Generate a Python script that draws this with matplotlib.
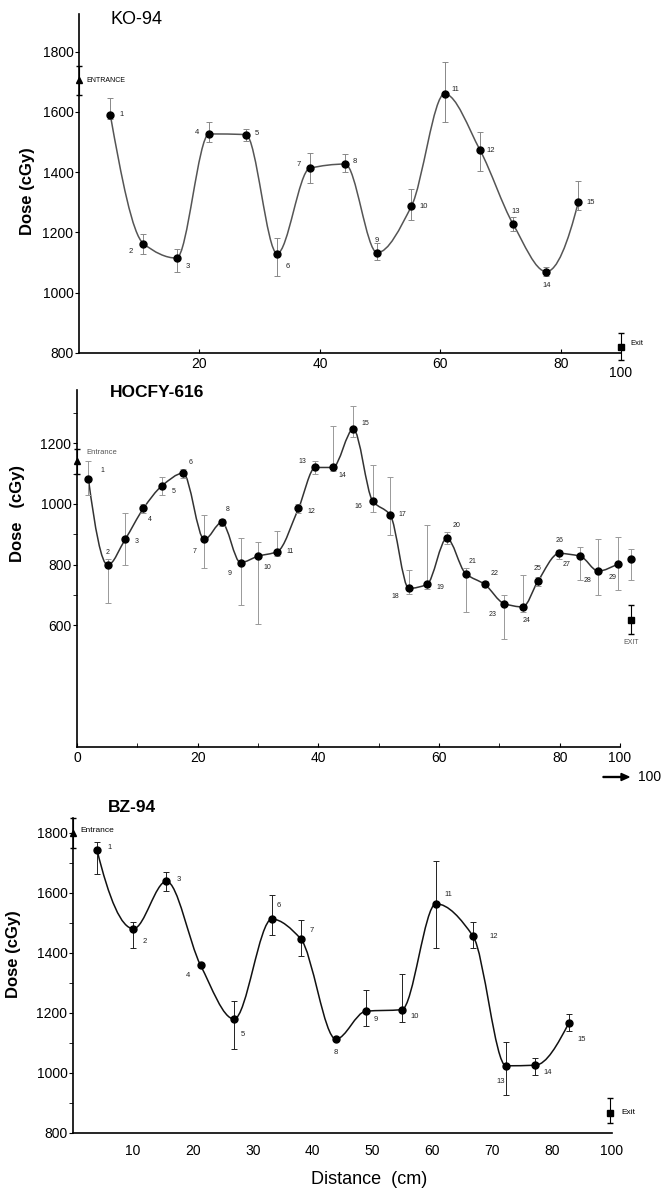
import numpy as np
import matplotlib
matplotlib.use("Agg")
import matplotlib.pyplot as plt
from matplotlib.path import Path
from matplotlib.patches import PathPatch, FancyArrow

plt.rcParams['font.family'] = ['Liberation Sans', 'DejaVu Sans']

# ---------------- data ----------------
# KO-94
ko_x = [5.2, 10.7, 16.2, 21.6, 27.7, 32.9, 38.3, 44.2, 49.5, 55.2, 60.7, 66.6, 72.1, 77.6, 82.9]
ko_dose = [1590, 1163, 1115, 1527, 1525, 1130, 1413, 1427, 1133, 1287, 1660, 1473, 1227, 1070, 1300]
ko_lo = [1575, 1130, 1070, 1500, 1505, 1055, 1365, 1400, 1110, 1240, 1565, 1405, 1205, 1055, 1275]
ko_hi = [1645, 1195, 1145, 1565, 1545, 1180, 1465, 1460, 1165, 1345, 1765, 1535, 1250, 1085, 1370]
ko_entrance = [1705, 1655, 1752]   # dose, low, high
ko_exit = [820, 778, 867]

# HOCFY-616
hf_x = [1.9, 5.1, 8.0, 11.0, 14.1, 17.6, 21.1, 24.0, 27.1, 30.0, 33.2, 36.7, 39.5, 42.4, 45.8,
        49.0, 51.9, 55.0, 58.0, 61.3, 64.4, 67.6, 70.8, 73.9, 76.4, 79.9, 83.4, 86.4, 89.7, 91.8]
hf_dose = [1081, 799, 884, 985, 1060, 1101, 883, 939, 807, 828, 843, 985, 1120, 1120, 1246,
           1010, 964, 722, 735, 887, 771, 735, 672, 661, 746, 837, 828, 779, 802, 820]
hf_lo = [1030, 675, 799, 970, 1030, 1086, 790, 929, 666, 606, 830, 970, 1100, 1110, 1220,
         975, 898, 705, 720, 867, 644, 725, 557, 645, 731, 820, 751, 700, 716, 749]
hf_hi = [1140, 820, 969, 1000, 1090, 1116, 963, 949, 887, 876, 911, 1000, 1140, 1257, 1321,
         1129, 1090, 782, 931, 907, 790, 745, 700, 766, 761, 850, 859, 883, 892, 853]
hf_entrance = [1140, 1100, 1180]
hf_exit = [617, 573, 666]

# BZ-94
bz_x = [4.0, 10.1, 15.6, 21.3, 26.9, 33.2, 38.0, 43.9, 48.9, 54.9, 60.6, 66.8, 72.3, 77.2, 82.8]
bz_dose = [1744, 1481, 1639, 1359, 1180, 1513, 1448, 1113, 1206, 1211, 1564, 1456, 1024, 1026, 1167]
bz_lo = [1663, 1417, 1608, 1359, 1080, 1459, 1389, 1113, 1156, 1169, 1417, 1417, 926, 995, 1140]
bz_hi = [1770, 1503, 1669, 1359, 1239, 1592, 1511, 1113, 1276, 1330, 1706, 1502, 1103, 1050, 1198]
bz_entrance = [1800, 1750, 1850]
bz_exit = [867, 833, 917]

# label offsets (points) for the point numbers
ko_off = [(8, 0), (-9, -6), (8, -6), (-9, 1), (8, 1), (8, -9), (-8, 3), (7, 2), (0, 9),
          (9, 0), (8, 3), (8, 0), (2, 9), (0, -10), (9, 0)]
hf_off = [(10, 6), (0, 9), (8, -2), (5, -8), (8, -4), (5, 8), (-7, -9), (4, 9), (-8, -8),
          (7, -8), (9, 0), (9, -2), (-9, 4), (7, -6), (9, 4), (-10, -4), (9, 0), (-10, -6),
          (10, -2), (7, 9), (5, 9), (7, 8), (-8, -8), (3, -10), (0, 9), (0, 9), (-10, -6),
          (-8, -7), (-4, -10), (8, -7)]
bz_off = [(9, 2), (8, -9), (9, 1), (-9, -7), (6, -11), (5, 10), (8, 6), (0, -10), (7, -6),
          (9, -5), (9, 7), (15, 0), (-4, -11), (9, -5), (9, -12)]

W, H = 665, 1190
fig = plt.figure(figsize=(W / 100, H / 100), dpi=100)


def px_axes(left, right, top, bottom):
    return fig.add_axes([left / W, 1 - bottom / H, (right - left) / W, (bottom - top) / H])


def smooth_path(x, y):
    # monotone cubic (Fritsch-Carlson) written as bezier segments
    x = np.asarray(x, float); y = np.asarray(y, float)
    h = np.diff(x); d = np.diff(y) / h
    n = len(x)
    m = np.zeros(n)
    for k in range(1, n - 1):
        if d[k - 1] * d[k] > 0:
            w1 = 2 * h[k] + h[k - 1]
            w2 = h[k] + 2 * h[k - 1]
            m[k] = (w1 + w2) / (w1 / d[k - 1] + w2 / d[k])

    def end_slope(h0, h1, d0, d1):
        s = ((2 * h0 + h1) * d0 - h0 * d1) / (h0 + h1)
        if np.sign(s) != np.sign(d0):
            return 0.0
        if np.sign(d0) != np.sign(d1) and abs(s) > abs(3 * d0):
            return 3 * d0
        return s
    m[0] = end_slope(h[0], h[1], d[0], d[1])
    m[-1] = end_slope(h[-1], h[-2], d[-1], d[-2])

    verts = [(x[0], y[0])]
    codes = [Path.MOVETO]
    for i in range(n - 1):
        verts += [(x[i] + h[i] / 3, y[i] + m[i] * h[i] / 3),
                  (x[i + 1] - h[i] / 3, y[i + 1] - m[i + 1] * h[i] / 3),
                  (x[i + 1], y[i + 1])]
        codes += [Path.CURVE4] * 3
    return Path(verts, codes)


def draw(ax, x, y, lo, hi, offs, line_col, err_col, lab_size=5.5):
    x = np.array(x); y = np.array(y)
    yerr = [y - np.array(lo), np.array(hi) - y]
    ax.add_patch(PathPatch(smooth_path(x, y), fill=False, ec=line_col, lw=1.1, zorder=2))
    ax.errorbar(x, y, yerr=yerr, fmt='none', ecolor=err_col, elinewidth=0.7, capsize=2,
                capthick=0.7, zorder=3, clip_on=False)
    ax.plot(x, y, 'o', color='black', ms=5, zorder=4, clip_on=False)
    for i, (xi, yi) in enumerate(zip(x, y)):
        ax.annotate(str(i + 1), (xi, yi), xytext=offs[i], textcoords='offset points',
                    ha='center', va='center', fontsize=lab_size, color='#222222')


def entrance_exit(ax, ent, ext, ext_x, col):
    ax.errorbar([0], [ent[0]], yerr=[[ent[0] - ent[1]], [ent[2] - ent[0]]], fmt='^', color='black',
                ms=4, ecolor=col, elinewidth=0.8, capsize=2, clip_on=False, zorder=5)
    ax.errorbar([ext_x], [ext[0]], yerr=[[ext[0] - ext[1]], [ext[2] - ext[0]]], fmt='s', color='black',
                ms=5, ecolor='black', elinewidth=0.8, capsize=2.5, clip_on=False, zorder=5)


def style(ax):
    for s in ['top', 'right']:
        ax.spines[s].set_visible(False)
    ax.spines['left'].set_linewidth(1.2)
    ax.spines['bottom'].set_linewidth(1.2)
    ax.spines['bottom'].set_bounds(0, 90)
    ax.tick_params(labelsize=10, width=0.8)


# ---------- KO-94 ----------
ax1 = px_axes(79, 621, 14, 353)
draw(ax1, ko_x, ko_dose, ko_lo, ko_hi, ko_off, '#555555', '#888888')
entrance_exit(ax1, ko_entrance, ko_exit, 90, 'black')
ax1.set_xlim(0, 90)
ax1.set_ylim(800, 1925)
ax1.set_yticks([800, 1000, 1200, 1400, 1600, 1800])
ax1.set_xticks([20, 40, 60, 80])
ax1.tick_params(axis='x', direction='in', length=3, pad=3)
ax1.tick_params(axis='y', direction='out', length=3, pad=1)
style(ax1)
ax1.text(90, -0.06, '100', transform=ax1.get_xaxis_transform(), ha='center', va='center', fontsize=10)
ax1.text(1.2, ko_entrance[0], 'ENTRANCE', fontsize=5, va='center', ha='left')
ax1.text(91.5, ko_exit[0] + 10, 'Exit', fontsize=5.5, va='center', ha='left')
ax1.set_ylabel('Dose (cGy)', fontsize=12, fontweight='bold')
ax1.yaxis.set_label_coords(-0.081, 0.478)
fig.text(111 / W, 1 - 20 / H, 'KO-94', fontsize=13, ha='left', va='center')

# ---------- HOCFY-616 ----------
ax2 = px_axes(77, 620, 390, 747)
draw(ax2, hf_x, hf_dose, hf_lo, hf_hi, hf_off, '#333333', '#999999', lab_size=5)
entrance_exit(ax2, hf_entrance, hf_exit, hf_x[-1], 'black')
ax2.set_xlim(0, 90)
ax2.set_ylim(200, 1375)
ax2.set_yticks([600, 800, 1000, 1200])
ax2.set_yticks([700, 900, 1100, 1300], minor=True)
ax2.set_xticks([0, 20, 40, 60, 80, 90])
ax2.set_xticklabels(['0', '20', '40', '60', '80', '100'])
ax2.set_xticks([10, 30, 50, 70], minor=True)
ax2.tick_params(axis='x', which='both', direction='in', length=3, pad=3)
ax2.tick_params(axis='y', which='both', direction='out', length=3, pad=1)
style(ax2)
ax2.annotate('92.8', (hf_x[-1], hf_dose[-1]), xytext=(12, 7), textcoords='offset points',
             ha='center', va='center', fontsize=5)
ax2.text(1.5, hf_entrance[0] + 30, 'Entrance', fontsize=5.5, color='#555555', va='center', ha='left')
ax2.text(hf_x[-1], 545, 'EXIT', fontsize=5, color='#555555', va='center', ha='center')
ax2.set_ylabel('Dose   (cGy)', fontsize=12, fontweight='bold')
ax2.yaxis.set_label_coords(-0.096, 0.655)
fig.text(110 / W, 1 - 393 / H, 'HOCFY-616', fontsize=12.5, ha='left', va='center', fontweight='bold')
fig.text(638 / W, 1 - 777 / H, '100', fontsize=10, ha='left', va='center')
fig.patches.append(FancyArrow(
    603 / W, 1 - 777 / H, 26 / W, 0, width=0.0008, head_width=0.006, head_length=0.012,
    length_includes_head=True, color='black', transform=fig.transFigure, figure=fig))

# ---------- BZ-94 ----------
ax3 = px_axes(73, 612, 818, 1133)
draw(ax3, bz_x, bz_dose, bz_lo, bz_hi, bz_off, '#111111', '#222222')
entrance_exit(ax3, bz_entrance, bz_exit, 89.7, 'black')
ax3.set_xlim(0, 90)
ax3.set_ylim(800, 1850)
ax3.set_yticks([800, 1000, 1200, 1400, 1600, 1800])
ax3.set_yticks([900, 1100, 1300, 1500, 1700], minor=True)
ax3.set_xticks([10, 20, 30, 40, 50, 60, 70, 80, 90])
ax3.set_xticklabels(['10', '20', '30', '40', '50', '60', '70', '80', '100'])
ax3.tick_params(axis='x', length=0, pad=8)
ax3.tick_params(axis='y', which='both', direction='out', length=3, pad=1)
style(ax3)
ax3.text(1.2, bz_entrance[0] + 8, 'Entrance', fontsize=6, va='center', ha='left')
ax3.text(91.5, bz_exit[0], 'Exit', fontsize=6, va='center', ha='left')
ax3.set_ylabel('Dose (cGy)', fontsize=12, fontweight='bold')
ax3.yaxis.set_label_coords(-0.0965, 0.568)
fig.text(369 / W, 1 - 1179 / H, 'Distance  (cm)', fontsize=13, ha='center', va='center')
fig.text(108 / W, 1 - 808 / H, 'BZ-94', fontsize=12.5, ha='left', va='center', fontweight='bold')

fig.savefig('out.png', dpi=100)
